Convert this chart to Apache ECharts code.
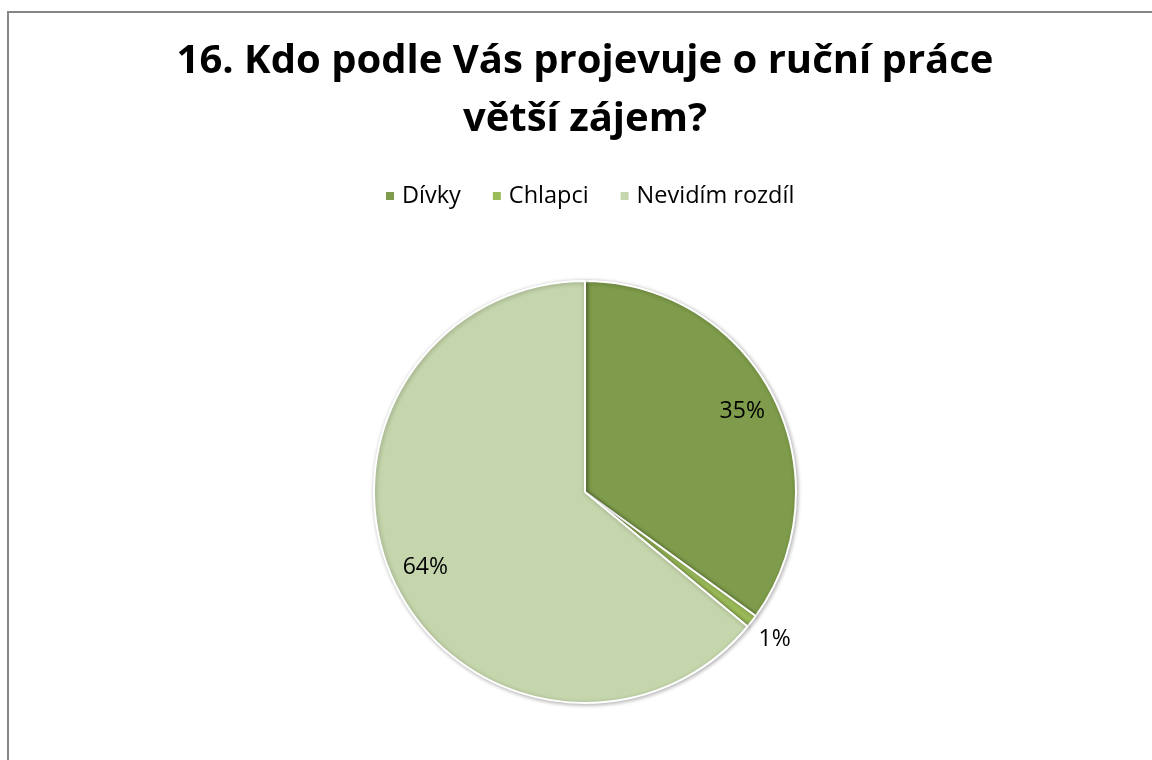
<!DOCTYPE html>
<html><head><meta charset="utf-8">
<script src="https://cdn.jsdelivr.net/npm/echarts@6/dist/echarts.min.js"></script>
<style>html,body{margin:0;padding:0;background:#fff}#c{width:1152px;height:760px}</style>
</head><body><div id="c"></div>
<script>
const titleText = '16. Kdo podle Vás projevuje o ruční práce\nvětší zájem?';
const categories = ['Dívky', 'Chlapci', 'Nevidím rozdíl'];
const values = [35, 1, 64];
const colors = ['#7E9C4B', '#9BBB59', '#C5D6AC'];
const insideLabelItems = [true, false, true];

const chart = echarts.init(document.getElementById('c'), null, {renderer: 'canvas'});
const FONT = 'Open Sans';
const center = [585, 492];
const R = 211;

function mkData(mode) {
  return categories.map((n, i) => {
    const d = {name: n, value: values[i]};
    if (mode === 'main') {
      d.itemStyle = {color: colors[i]};
    } else {
      const show = mode === 'in' ? insideLabelItems[i] : !insideLabelItems[i];
      d.itemStyle = {color: 'rgba(0,0,0,0)', borderWidth: 0};
      d.label = {show: show};
    }
    return d;
  });
}
const labelStyle = {
  position: 'inside', color: '#000', fontFamily: FONT, fontSize: 23,
  formatter: p => Math.round(p.value) + '%'
};

chart.setOption({
  animation: false,
  title: {
    text: titleText, left: 585, top: 33, padding: 0, textAlign: 'center',
    textStyle: {fontFamily: FONT, fontWeight: 'bold', fontSize: 40, lineHeight: 58, color: '#000'}
  },
  legend: {
    data: categories, top: 179, left: 379, itemWidth: 10, itemHeight: 10, itemGap: 30,
    icon: 'rect', textStyle: {fontFamily: FONT, fontSize: 23.5, color: '#000', padding: [0,0,0,2]},
    selectedMode: false
  },
  graphic: [{
    type: 'rect', shape: {x: 8, y: 12, width: 1200, height: 800},
    style: {fill: 'none', stroke: '#868686', lineWidth: 2}, silent: true, z: 100
  }],
  series: [
    {
      type: 'pie', center: center, radius: [0, R], startAngle: 90, clockwise: true,
      data: mkData('main'), label: {show: false}, labelLine: {show: false},
      itemStyle: {borderColor: '#fff', borderWidth: 2, shadowBlur: 4, shadowColor: 'rgba(0,0,0,0.3)', shadowOffsetX: 1, shadowOffsetY: 1},
      emphasis: {disabled: true}, silent: true
    },
    {
      type: 'pie', center: center, radius: [136, R], startAngle: 90, clockwise: true,
      data: mkData('in'), label: labelStyle, labelLine: {show: false},
      emphasis: {disabled: true}, silent: true, legendHoverLink: false
    },
    {
      type: 'pie', center: center, radius: [R, 263], startAngle: 90, clockwise: true,
      data: mkData('out'), label: labelStyle, labelLine: {show: false},
      emphasis: {disabled: true}, silent: true, legendHoverLink: false
    }
  ]
});
</script></body></html>
